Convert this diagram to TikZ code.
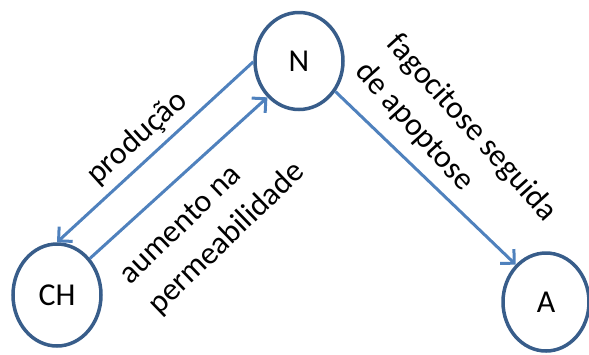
\documentclass[tikz,border=0pt]{standalone}
\usepackage{fontspec}
\setmainfont{Carlito}
\usetikzlibrary{arrows.meta,shapes.geometric}
\definecolor{circ}{HTML}{385D8A}
\definecolor{arr}{HTML}{4F81BD}
\begin{document}
\begin{tikzpicture}[x=1bp,y=-1bp,
  state/.style={ellipse, draw=circ, line width=3.5bp, inner sep=0, font=\fontsize{32}{36}\selectfont},
  conn/.style={draw=arr, line width=3bp, -{Straight Barb[length=10bp,width=20bp]}},
  lbl/.style={font=\fontsize{32}{42}\selectfont, align=left, inner sep=0}]
\useasboundingbox (0,0) rectangle (589,354);
\node[state, minimum width=88bp, minimum height=97bp] (N) at (299,61) {N};
\node[state, minimum width=88bp, minimum height=102bp] (CH) at (57,295) {CH};
\node[state, minimum width=86bp, minimum height=98bp] (A) at (546,302) {A};
\draw[conn] (N.181) -- (CH.90);
\draw[conn] (CH.48) -- (N.229);
\draw[conn] (N.320) -- (A.129);
\node[lbl, rotate=42] (l1) at (137.5,138) {produção};
\node[lbl, rotate=44] (l2) at (213,224) {aumento na\\permeabilidade};
\node[lbl, rotate=-48] (l3) at (456,142) {fagocitose seguida\\de apoptose};
\end{tikzpicture}
\end{document}
